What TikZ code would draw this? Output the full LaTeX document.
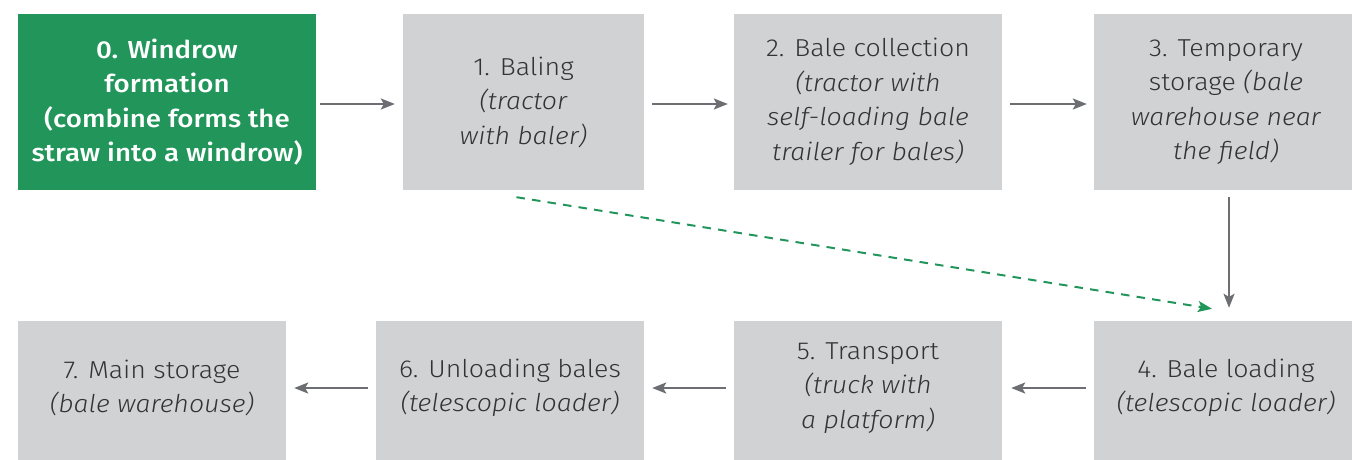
\documentclass[tikz,border=0pt]{standalone}
\usepackage{fontspec}
\setmainfont{Fira Sans Light}[FakeStretch=1.09, ItalicFont=Fira Sans Light Italic]
\newfontfamily\startfont{Fira Sans Medium}[FakeStretch=1.13]
\usetikzlibrary{arrows.meta}
\definecolor{stepgreen}{HTML}{22965A}
\definecolor{stepgrey}{HTML}{D1D2D4}
\definecolor{steptext}{HTML}{333333}
\definecolor{arrowgrey}{HTML}{6D6E71}
\begin{document}
\begin{tikzpicture}[x=1pt,y=-1pt,
  stepbox/.style={fill=stepgrey, text=steptext, align=center, inner sep=0pt,
    font=\fontsize{24.5}{34.5}\selectfont},
  toprow/.style={stepbox, minimum height=176pt},
  lowrow/.style={stepbox, minimum height=134pt},
  startbox/.style={toprow, fill=stepgreen, text=white, font=\startfont\fontsize{24.5}{34.5}\selectfont},
  flow/.style={draw=arrowgrey, line width=2pt, -{Stealth[length=14pt,width=11pt,inset=3pt]},
    shorten <=7pt, shorten >=7pt},
  shortcut/.style={draw=stepgreen, line width=2pt, dash pattern=on 8.5pt off 7.2pt,
    -{Stealth[length=14pt,width=11pt,inset=3pt]}}]
\useasboundingbox (0,0) rectangle (1352,460);
\clip (0,0) rectangle (1352,460);

% upper row: field operations
\node[startbox, minimum width=298pt] (b0) at (167,102)
  {0. Windrow\\formation\\(combine forms the\\straw into a windrow)};
\node[toprow, minimum width=241pt] (b1) at (523.5,102)
  {1. Baling\\\textit{(tractor}\\\textit{with baler)}};
\node[toprow, minimum width=268pt] (b2) at (868,102)
  {2. Bale collection\\\textit{(tractor with}\\\textit{self-loading bale}\\\textit{trailer for bales)}};
\node[toprow, minimum width=264pt] (b3) at (1226,102)
  {3. Temporary\\storage \textit{(bale}\\\textit{warehouse near}\\\textit{the field)}};

% lower row: loading, transport and storage
\node[lowrow, minimum width=264pt] (b4) at (1226,388)
  {4. Bale loading\\\textit{(telescopic loader)}};
\node[lowrow, minimum width=268pt] (b5) at (868,388)
  {5. Transport\\\textit{(truck with}\\\textit{a platform)}};
\node[lowrow, minimum width=268pt] (b6) at (510,388)
  {6. Unloading bales\\\textit{(telescopic loader)}};
\node[lowrow, minimum width=268pt] (b7) at (152,388)
  {7. Main storage\\\textit{(bale warehouse)}};

% lower boxes run on past the bottom edge
\foreach \b in {b4,b5,b6,b7}
  \fill[stepgrey] (\b.south west) rectangle ([yshift=-12pt]\b.south east);

% connectors
\draw[flow, shorten <=4pt, shorten >=8pt] ([yshift=-2pt]b0.east) -- ([yshift=-2pt]b1.west);
\draw[flow, shorten <=8pt, shorten >=6pt] ([yshift=-2pt]b1.east) -- ([yshift=-2pt]b2.west);
\draw[flow, shorten <=8pt, shorten >=7pt] ([yshift=-2pt]b2.east) -- ([yshift=-2pt]b3.west);
\draw[flow, shorten <=7pt, shorten >=13pt] ([xshift=3pt]b3.south) -- ([xshift=3pt]b4.north);
\draw[flow, shorten <=8pt, shorten >=9pt] (b4.west) -- (b5.east);
\draw[flow, shorten <=8pt, shorten >=8pt] (b5.west) -- (b6.east);
\draw[flow, shorten <=8pt, shorten >=8pt] (b6.west) -- (b7.east);
\draw[shortcut] ([xshift=-7pt,yshift=-7pt]b1.south) -- ([xshift=-14pt,yshift=12pt]b4.north);
\end{tikzpicture}
\end{document}
